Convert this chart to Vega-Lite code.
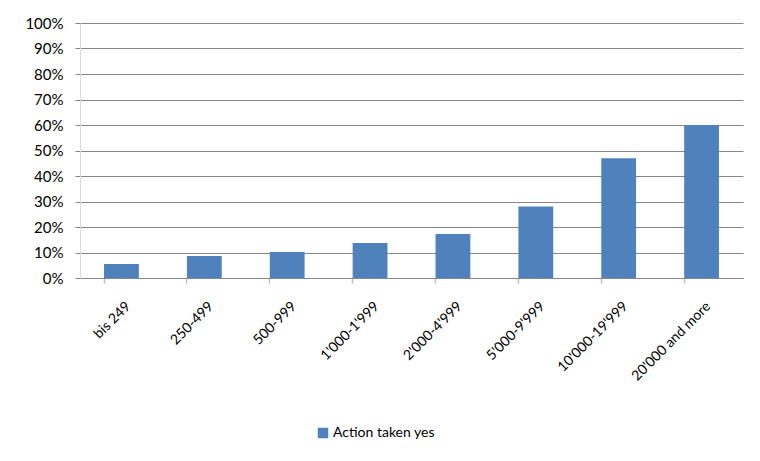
{
  "$schema": "https://vega.github.io/schema/vega-lite/v6.json",
  "width": 663,
  "height": 255,
  "autosize": {"type": "none"},
  "padding": {"left": 80, "top": 23, "right": 17, "bottom": 183},
  "background": "white",
  "config": {
    "view": {"stroke": null},
    "font": "Lato",
    "axis": {"labelFont": "Lato", "labelColor": "#000000"},
    "legend": {"labelFont": "Lato", "labelFontSize": 14, "labelColor": "#000000"}
  },
  "data": {
    "values": [
      {"category": "bis 249", "share": 0.055, "series": "Action taken yes"},
      {"category": "250-499", "share": 0.086, "series": "Action taken yes"},
      {"category": "500-999", "share": 0.102, "series": "Action taken yes"},
      {"category": "1'000-1'999", "share": 0.137, "series": "Action taken yes"},
      {"category": "2'000-4'999", "share": 0.173, "series": "Action taken yes"},
      {"category": "5'000-9'999", "share": 0.28, "series": "Action taken yes"},
      {"category": "10'000-19'999", "share": 0.47, "series": "Action taken yes"},
      {"category": "20'000 and more", "share": 0.60, "series": "Action taken yes"}
    ]
  },
  "mark": {"type": "bar"},
  "encoding": {
    "x": {
      "field": "category",
      "type": "nominal",
      "sort": null,
      "scale": {"paddingInner": 0.58, "paddingOuter": 0.29},
      "axis": {
        "title": null,
        "labelAngle": -45,
        "labelAlign": "right",
        "labelBaseline": "top",
        "labelFontSize": 14,
        "labelOffset": 2,
        "labelPadding": 16,
        "bandPosition": 0,
        "ticks": true,
        "tickSize": 5,
        "tickColor": "#BFBFBF",
        "tickWidth": 1.5,
        "domainColor": "#868686",
        "domainWidth": 1,
        "grid": false
      }
    },
    "y": {
      "field": "share",
      "type": "quantitative",
      "scale": {"domain": [0, 1]},
      "axis": {
        "title": null,
        "format": ".0%",
        "values": [0, 0.1, 0.2, 0.3, 0.4, 0.5, 0.6, 0.7, 0.8, 0.9, 1.0],
        "labelFontSize": 15,
        "grid": true,
        "gridColor": "#868686",
        "gridWidth": 1,
        "tickSize": 5,
        "tickColor": "#868686",
        "domainColor": "#D9D9D9",
        "domainWidth": 1,
        "labelPadding": 12
      }
    },
    "color": {
      "field": "series",
      "type": "nominal",
      "scale": {"range": ["#4F81BD"]},
      "legend": {
        "title": null,
        "orient": "none",
        "legendX": 236,
        "legendY": 403,
        "symbolType": "square",
        "symbolSize": 110,
        "labelOffset": 3
      }
    }
  }
}
